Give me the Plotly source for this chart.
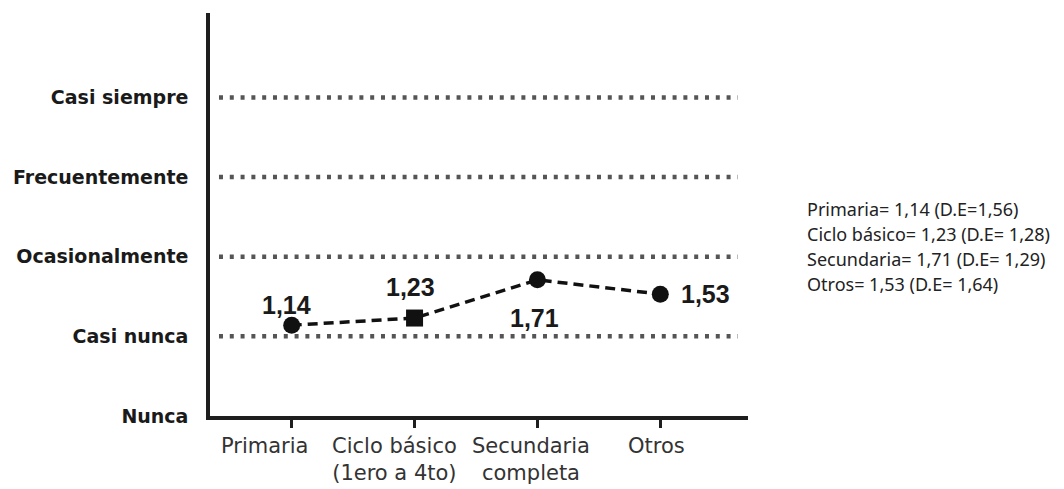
import plotly.graph_objects as go

# ---- data ----
categories = ["Primaria", "Ciclo básico<br>(1ero a 4to)", "Secundaria<br>completa", "Otros"]
means = [1.14, 1.23, 1.71, 1.53]
mean_labels = ["1,14", "1,23", "1,71", "1,53"]
marker_symbols = ["circle", "square", "circle", "circle"]
level_values = [0, 1, 2, 3, 4]
level_labels = ["Nunca", "Casi nunca", "Ocasionalmente", "Frecuentemente", "Casi siempre"]
grid_levels = [1, 2, 3, 4]
summary_lines = [
    "Primaria= 1,14 (D.E=1,56)",
    "Ciclo básico= 1,23 (D.E= 1,28)",
    "Secundaria= 1,71 (D.E= 1,29)",
    "Otros= 1,53 (D.E= 1,64)",
]

# ---- layout-only tweaks (positions/styles) ----
value_label_shift = [(-5, 20), (-4, 31), (-3, -38), (45, 0)]
cat_label_dx = [-27, -20, -6, -4]
xpos = list(range(len(categories)))

fig = go.Figure()
fig.add_trace(go.Scatter(
    x=xpos, y=means, mode="lines+markers",
    line=dict(color="#111111", width=3.5, dash="10px,6px"),
    marker=dict(symbol=marker_symbols, size=17, color="#111111"),
    showlegend=False, hoverinfo="skip",
))

shapes = []
for lv in grid_levels:
    shapes.append(dict(type="line", xref="paper", yref="y", x0=0.0167, x1=0.981, y0=lv, y1=lv,
                       line=dict(color="#555555", width=4.5, dash="4px,6.8px"), layer="below"))

annotations = []
for i, (xv, yv, txt) in enumerate(zip(xpos, means, mean_labels)):
    dx, dy = value_label_shift[i]
    annotations.append(dict(x=xv, y=yv, xref="x", yref="y", text=txt, showarrow=False,
                            xanchor="center", yanchor="middle", xshift=dx, yshift=dy,
                            font=dict(family="Liberation Sans Narrow, Arial Narrow, Liberation Sans, Arial",
                                      size=25, color="#1a1a1a", weight="bold")))
for i, (xv, txt) in enumerate(zip(xpos, categories)):
    annotations.append(dict(x=xv, y=0, xref="x", yref="y", text=txt, showarrow=False,
                            xanchor="center", yanchor="top", yshift=-16, xshift=cat_label_dx[i],
                            font=dict(family="DejaVu Sans", size=21, color="#333333")))
for i, txt in enumerate(summary_lines):
    annotations.append(dict(x=1.1056, y=(416 - (209 + 25 * i)) / 403, xref="paper", yref="paper",
                            text=txt, showarrow=False, xanchor="left", yanchor="middle",
                            font=dict(family="Noto Sans", size=18, color="#222222")))

fig.update_layout(
    width=1056, height=481,
    margin=dict(l=200, r=316, t=5, b=73),
    paper_bgcolor="white", plot_bgcolor="white",
    shapes=shapes, annotations=annotations,
    xaxis=dict(range=[-0.665, 3.714], tickvals=xpos, ticktext=["" for _ in xpos],
               showgrid=False, zeroline=False, showline=True, linecolor="#1e1e1e", linewidth=3.5,
               ticks="outside", ticklen=8, tickwidth=3, tickcolor="#1e1e1e"),
    yaxis=dict(range=[0, 5.06], tickvals=level_values, ticktext=level_labels,
               showgrid=False, zeroline=False, showline=True, linecolor="#1e1e1e", linewidth=3.5,
               ticks="", ticklabelstandoff=14,
               tickfont=dict(family="DejaVu Sans", size=19, color="#1a1a1a", weight="bold")),
)

fig.write_html("out.html")
